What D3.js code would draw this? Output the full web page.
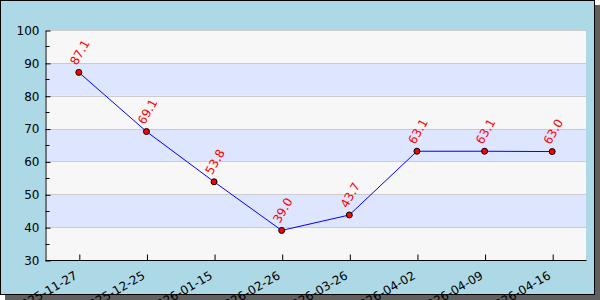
<!DOCTYPE html>
<html>
<head>
<meta charset="utf-8">
<script src="https://cdn.jsdelivr.net/npm/d3@7"></script>
<style>
    body { margin: 0; background: #fff; }
    svg { display: block; font-family: "DejaVu Sans", sans-serif; }
</style>
</head>
<body>
<svg width="600" height="300"></svg>
<script>
const dates = [
    "2025-11-27", "2025-12-25", "2026-01-15", "2026-02-26",
    "2026-03-26", "2026-04-02", "2026-04-09", "2026-04-16",
];
const values = [87.1, 69.1, 53.8, 39.0, 43.7, 63.1, 63.1, 63.0];
const yTicks = [30, 40, 50, 60, 70, 80, 90, 100];
const yMinorTicks = [35, 45, 55, 65, 75, 85, 95];

const dims = {
    width: 600,
    height: 300,
    shadow: 5,
    left: 45,
    right: 586,
    top: 30,
    bottom: 260,
};

const svg = d3.select("svg");

// frame shadow + frame
svg.append("rect")
    .attr("x", dims.shadow)
    .attr("y", dims.shadow)
    .attr("width", dims.width - dims.shadow)
    .attr("height", dims.height - dims.shadow)
    .attr("fill", "#606060");

svg.append("rect")
    .attr("x", 0.5)
    .attr("y", 0.5)
    .attr("width", dims.width - dims.shadow - 1)
    .attr("height", dims.height - dims.shadow - 1)
    .attr("fill", "#add8e6")
    .attr("stroke", "#000");

// scales
const x = d3.scalePoint()
    .domain(dates)
    .range([dims.left, dims.right])
    .padding(0.5);

const y = d3.scaleLinear()
    .domain([30, 100])
    .range([dims.bottom, dims.top]);

// plot background with alternating bands
svg.append("rect")
    .attr("x", dims.left)
    .attr("y", dims.top)
    .attr("width", dims.right - dims.left)
    .attr("height", dims.bottom - dims.top)
    .attr("fill", "#fff");

svg.append("g")
    .selectAll("rect")
    .data(d3.pairs(yTicks))
    .join("rect")
    .attr("x", dims.left)
    .attr("y", (d) => y(d[1]))
    .attr("width", dims.right - dims.left)
    .attr("height", (d) => y(d[0]) - y(d[1]))
    .attr("fill", (d, i) => (i % 2 === 0 ? "#f7f7f7" : "#dde5ff"));

// grid lines
svg.append("g")
    .selectAll("line")
    .data(yTicks.slice(1))
    .join("line")
    .attr("x1", dims.left)
    .attr("x2", dims.right)
    .attr("y1", (d) => Math.round(y(d)) + 0.5)
    .attr("y2", (d) => Math.round(y(d)) + 0.5)
    .attr("stroke", "#cccccc");

// y axis
const yAxis = svg.append("g")
    .attr("transform", `translate(${dims.left + 0.5},0.5)`)
    .call(d3.axisRight(y).tickValues(yTicks).tickSize(5).tickSizeOuter(0).tickFormat(d3.format("d")));
yAxis.select(".domain").attr("stroke", "#000");
yAxis.selectAll(".tick line").attr("stroke", "#000");
yAxis.selectAll(".tick text")
    .attr("x", -6)
    .attr("text-anchor", "end")
    .attr("fill", "#000")
    .style("font-size", "12px")
    .style("font-family", "DejaVu Sans");

yAxis.selectAll(".minor")
    .data(yMinorTicks)
    .join("line")
    .attr("class", "minor")
    .attr("x1", 0)
    .attr("x2", 4)
    .attr("y1", (d) => Math.round(y(d)))
    .attr("y2", (d) => Math.round(y(d)))
    .attr("stroke", "#000");

// x axis
const xAxis = svg.append("g")
    .attr("transform", `translate(0.5,${dims.bottom + 0.5})`)
    .call(d3.axisTop(x).tickSize(6).tickSizeOuter(0));
xAxis.select(".domain")
    .attr("d", `M${dims.left},0H${dims.right}`)
    .attr("stroke", "#000");
xAxis.selectAll(".tick line").attr("stroke", "#000");
xAxis.selectAll(".tick text")
    .attr("y", 0)
    .attr("dy", "0.72em")
    .attr("text-anchor", "end")
    .attr("transform", "translate(-6,10) rotate(-30)")
    .attr("fill", "#000")
    .style("font-size", "12px")
    .style("font-family", "DejaVu Sans");

// line
const line = d3.line()
    .x((d, i) => x(dates[i]))
    .y((d) => y(d));

svg.append("path")
    .datum(values)
    .attr("d", line)
    .attr("fill", "none")
    .attr("stroke", "#0000ff")
    .attr("stroke-width", 1);

// markers
svg.append("g")
    .selectAll("circle")
    .data(values)
    .join("circle")
    .attr("cx", (d, i) => x(dates[i]))
    .attr("cy", (d) => y(d))
    .attr("r", 3)
    .attr("fill", "#ff0000")
    .attr("stroke", "#000")
    .attr("stroke-width", 1);

// value labels
svg.append("g")
    .selectAll("text")
    .data(values)
    .join("text")
    .attr("transform", (d, i) => `translate(${x(dates[i]) + 1},${y(d) - 20}) rotate(-60)`)
    .attr("text-anchor", "middle")
    .attr("dy", "0.35em")
    .attr("fill", "#ff0000")
    .style("font-size", "12px")
    .text((d) => d.toFixed(1));
</script>
</body>
</html>
